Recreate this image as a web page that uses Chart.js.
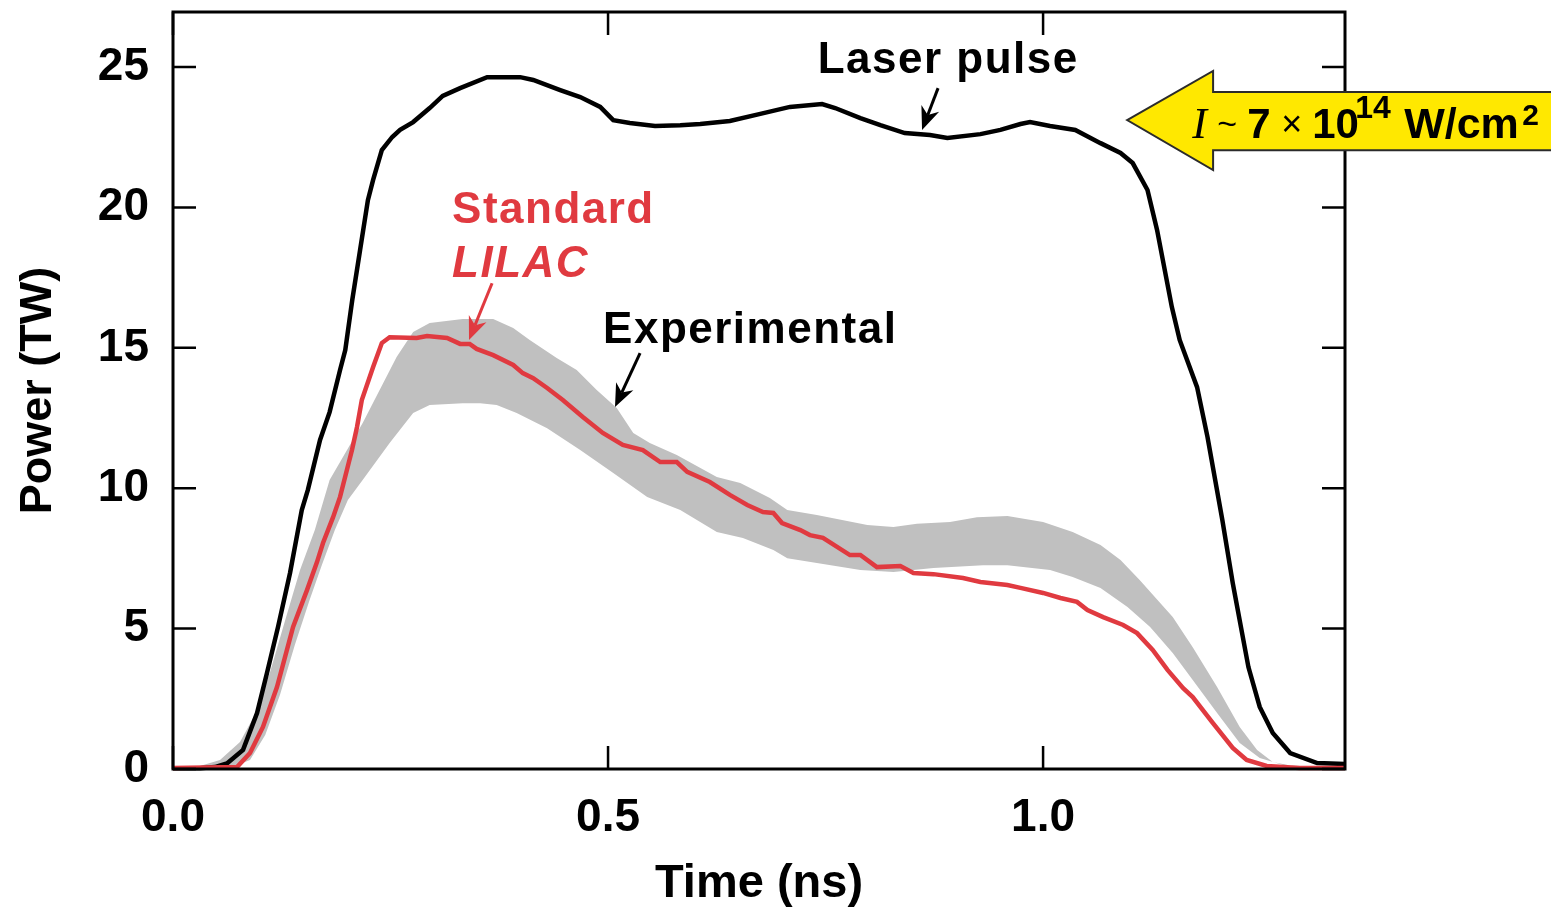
<!DOCTYPE html>
<html>
<head>
<meta charset="utf-8">
<script src="https://cdn.jsdelivr.net/npm/chart.js@4.4.1/dist/chart.umd.min.js"></script>
<style>
  html, body { margin: 0; padding: 0; background: #fff; }
  canvas { display: block; }
</style>
</head>
<body>
<canvas id="power-chart" width="1551" height="912"></canvas>
<script>
// tick labels
const timeTicks = [0, 0.5, 1.0];
const powerTicks = [0, 5, 10, 15, 20, 25];

// laser pulse (black)
const laserTime = [0, 0.031, 0.048, 0.062, 0.0805, 0.0966, 0.108, 0.1207, 0.1345, 0.148, 0.155, 0.169, 0.180, 0.192, 0.198, 0.206, 0.215, 0.224, 0.230, 0.240, 0.252, 0.261, 0.276, 0.295, 0.310, 0.330, 0.361, 0.399, 0.414, 0.445, 0.468, 0.491, 0.506, 0.525, 0.554, 0.583, 0.606, 0.640, 0.675, 0.709, 0.746, 0.761, 0.790, 0.813, 0.841, 0.870, 0.890, 0.928, 0.951, 0.974, 0.985, 1.008, 1.037, 1.066, 1.089, 1.103, 1.120, 1.131, 1.148, 1.157, 1.177, 1.189, 1.206, 1.218, 1.236, 1.249, 1.264, 1.284, 1.315, 1.347];
const laserPower = [0.03, 0.03, 0.07, 0.2, 0.68, 1.99, 3.42, 5.06, 6.98, 9.22, 9.94, 11.72, 12.71, 14.21, 14.92, 16.70, 18.48, 20.26, 20.98, 22.04, 22.51, 22.76, 23.04, 23.54, 23.97, 24.25, 24.64, 24.64, 24.54, 24.18, 23.93, 23.58, 23.11, 23.01, 22.90, 22.93, 22.97, 23.08, 23.33, 23.58, 23.68, 23.54, 23.18, 22.93, 22.65, 22.58, 22.47, 22.61, 22.76, 22.97, 23.04, 22.90, 22.76, 22.29, 21.94, 21.58, 20.62, 19.20, 16.45, 15.28, 13.60, 11.82, 8.87, 6.62, 3.63, 2.21, 1.28, 0.57, 0.21, 0.18];

// standard LILAC simulation (red)
const lilacTime = [0, 0.0736, 0.0885, 0.1034, 0.1195, 0.138, 0.154, 0.1655, 0.1724, 0.184, 0.192, 0.2057, 0.2115, 0.217, 0.230, 0.240, 0.249, 0.280, 0.292, 0.315, 0.330, 0.341, 0.349, 0.368, 0.391, 0.402, 0.414, 0.430, 0.448, 0.471, 0.494, 0.517, 0.540, 0.560, 0.579, 0.591, 0.617, 0.640, 0.660, 0.678, 0.690, 0.700, 0.721, 0.732, 0.747, 0.778, 0.790, 0.809, 0.836, 0.851, 0.874, 0.908, 0.928, 0.959, 0.974, 1.000, 1.020, 1.039, 1.051, 1.069, 1.092, 1.108, 1.126, 1.143, 1.161, 1.172, 1.195, 1.218, 1.234, 1.257, 1.295, 1.347];
const lilacPower = [0.04, 0.07, 0.57, 1.50, 2.92, 5.06, 6.37, 7.37, 8.05, 8.97, 9.69, 11.36, 12.18, 13.14, 14.32, 15.17, 15.38, 15.35, 15.42, 15.35, 15.14, 15.14, 14.96, 14.74, 14.39, 14.10, 13.92, 13.57, 13.14, 12.54, 11.97, 11.54, 11.36, 10.93, 10.93, 10.58, 10.22, 9.76, 9.40, 9.15, 9.12, 8.76, 8.51, 8.33, 8.23, 7.62, 7.62, 7.19, 7.23, 6.98, 6.94, 6.80, 6.66, 6.55, 6.45, 6.27, 6.09, 5.95, 5.66, 5.41, 5.13, 4.84, 4.24, 3.53, 2.88, 2.56, 1.64, 0.75, 0.32, 0.11, 0.04, 0.04];

// experimental band (grey): upper and lower edges
const bandUpperTime = [0, 0.031, 0.054, 0.077, 0.094, 0.1115, 0.129, 0.146, 0.163, 0.180, 0.218, 0.257, 0.276, 0.295, 0.333, 0.368, 0.391, 0.410, 0.441, 0.464, 0.487, 0.510, 0.529, 0.548, 0.579, 0.625, 0.652, 0.686, 0.706, 0.740, 0.798, 0.828, 0.855, 0.893, 0.924, 0.959, 1.000, 1.034, 1.066, 1.089, 1.111, 1.149, 1.172, 1.200, 1.226, 1.246, 1.264, 1.287, 1.333, 1.347];
const bandUpperPower = [0.07, 0.11, 0.32, 0.96, 1.92, 3.45, 5.31, 7.09, 8.51, 10.29, 12.32, 14.67, 15.56, 15.88, 16.03, 16.03, 15.71, 15.28, 14.64, 14.21, 13.50, 12.86, 11.97, 11.61, 11.18, 10.40, 10.19, 9.65, 9.22, 9.05, 8.69, 8.62, 8.73, 8.80, 8.97, 9.01, 8.80, 8.44, 7.98, 7.44, 6.73, 5.41, 4.34, 2.92, 1.50, 0.68, 0.25, 0.11, 0.07, 0.07];
const bandLowerTime = [0, 0.0655, 0.0885, 0.106, 0.123, 0.140, 0.157, 0.171, 0.186, 0.201, 0.218, 0.249, 0.276, 0.295, 0.333, 0.353, 0.372, 0.395, 0.430, 0.468, 0.506, 0.545, 0.583, 0.625, 0.655, 0.690, 0.706, 0.740, 0.790, 0.828, 0.874, 0.931, 0.959, 1.008, 1.034, 1.066, 1.097, 1.123, 1.149, 1.172, 1.200, 1.226, 1.249, 1.276, 1.315, 1.347];
const bandLowerPower = [0.04, 0.04, 0.32, 1.21, 2.64, 4.42, 6.02, 7.26, 8.51, 9.58, 10.29, 11.61, 12.68, 12.96, 13.03, 13.03, 12.96, 12.68, 12.14, 11.36, 10.54, 9.69, 9.22, 8.44, 8.23, 7.80, 7.51, 7.34, 7.09, 7.02, 7.16, 7.26, 7.26, 7.09, 6.84, 6.45, 5.77, 5.06, 4.13, 3.17, 1.99, 0.93, 0.39, 0.14, 0.07, 0.07];

const RED = '#e03a40';
const FONT = '"Liberation Sans", Arial, Helvetica, sans-serif';
const TICK = 23;

const toPoints = (ts, ps) => ts.map((t, i) => ({ x: t, y: ps[i] }));

// closed outline of the band: upper edge forward, lower edge back
const bandPoints = toPoints(bandUpperTime, bandUpperPower)
  .concat(toPoints(bandLowerTime, bandLowerPower).reverse());

function arrow(ctx, x1, y1, x2, y2, color) {
  const ang = Math.atan2(y2 - y1, x2 - x1);
  const len = 23, half = 9.5, back = 16;
  ctx.save();
  ctx.strokeStyle = color;
  ctx.fillStyle = color;
  ctx.lineWidth = 3;
  ctx.beginPath();
  ctx.moveTo(x1, y1);
  ctx.lineTo(x2 - Math.cos(ang) * back, y2 - Math.sin(ang) * back);
  ctx.stroke();
  ctx.translate(x2, y2);
  ctx.rotate(ang);
  ctx.beginPath();
  ctx.moveTo(0, 0);
  ctx.lineTo(-len, -half);
  ctx.lineTo(-back, 0);
  ctx.lineTo(-len, half);
  ctx.closePath();
  ctx.fill();
  ctx.restore();
}

const frameTicks = {
  id: 'frameTicks',
  afterDatasetsDraw(chart) {
    const { ctx, chartArea: a, scales: { x, y } } = chart;
    ctx.save();
    ctx.strokeStyle = '#000';
    ctx.lineWidth = 2.5;
    ctx.beginPath();
    timeTicks.forEach(v => {
      const px = x.getPixelForValue(v);
      ctx.moveTo(px, a.bottom); ctx.lineTo(px, a.bottom - TICK);
      ctx.moveTo(px, a.top); ctx.lineTo(px, a.top + TICK);
    });
    powerTicks.forEach(v => {
      const py = y.getPixelForValue(v);
      ctx.moveTo(a.left, py); ctx.lineTo(a.left + TICK, py);
      ctx.moveTo(a.right, py); ctx.lineTo(a.right - TICK, py);
    });
    ctx.stroke();
    ctx.lineWidth = 3;
    ctx.strokeRect(a.left, a.top, a.right - a.left, a.bottom - a.top);
    ctx.restore();
  }
};

const labels = {
  id: 'labels',
  afterDraw(chart) {
    const { ctx, scales: { x, y } } = chart;
    const X = v => x.getPixelForValue(v);
    const Y = v => y.getPixelForValue(v);
    ctx.save();
    ctx.textBaseline = 'alphabetic';
    ctx.textAlign = 'left';
    ctx.letterSpacing = '1.5px';

    ctx.fillStyle = '#000';
    ctx.font = 'bold 44px ' + FONT;
    ctx.fillText('Laser pulse', X(0.741), Y(24.79));
    arrow(ctx, X(0.8793), Y(24.25), X(0.8609), Y(22.76), '#000');

    ctx.fillText('Experimental', X(0.4943), Y(15.17));
    arrow(ctx, X(0.5368), Y(14.81), X(0.508), Y(12.89), '#000');

    ctx.fillStyle = RED;
    ctx.font = 'bold 44px ' + FONT;
    ctx.fillText('Standard', X(0.3207), Y(19.44));
    ctx.font = 'italic bold 44px ' + FONT;
    ctx.fillText('LILAC', X(0.3207), Y(17.52));
    arrow(ctx, X(0.3667), Y(17.30), X(0.3402), Y(15.28), RED);
    ctx.letterSpacing = '0px';

    // yellow intensity arrow
    const tipX = X(1.0966), tipY = Y(23.11);
    const headX = X(1.1954);
    const shaftTop = Y(24.11), shaftBot = Y(22.04);
    const headTop = Y(24.86), headBot = Y(21.33);
    const endX = chart.width + 5;
    ctx.beginPath();
    ctx.moveTo(tipX, tipY);
    ctx.lineTo(headX, headTop);
    ctx.lineTo(headX, shaftTop);
    ctx.lineTo(endX, shaftTop);
    ctx.lineTo(endX, shaftBot);
    ctx.lineTo(headX, shaftBot);
    ctx.lineTo(headX, headBot);
    ctx.closePath();
    ctx.fillStyle = '#ffe800';
    ctx.fill();
    ctx.strokeStyle = '#2b2b2b';
    ctx.lineWidth = 2;
    ctx.stroke();

    const x0 = X(1.1713), base = Y(22.47);
    ctx.fillStyle = '#000';
    ctx.font = 'italic 44px "Liberation Serif", "Times New Roman", serif';
    ctx.fillText('I', x0, base);
    ctx.font = '34px ' + FONT;
    ctx.fillText('~', x0 + 25, base - 3);
    ctx.font = 'bold 42px ' + FONT;
    ctx.fillText('7', x0 + 55, base);
    ctx.font = '36px ' + FONT;
    ctx.fillText('\u00d7', x0 + 89, base - 2);
    ctx.font = 'bold 42px ' + FONT;
    ctx.fillText('10', x0 + 120, base);
    ctx.font = 'bold 32px ' + FONT;
    ctx.fillText('14', x0 + 163, base - 20);
    ctx.font = 'bold 43px ' + FONT;
    ctx.fillText('W/cm', x0 + 212, base);
    ctx.font = 'bold 30px ' + FONT;
    ctx.fillText('2', x0 + 330, base - 13);
    ctx.restore();
  }
};

new Chart(document.getElementById('power-chart'), {
  type: 'line',
  data: {
    datasets: [
      {
        label: 'Standard LILAC',
        data: toPoints(lilacTime, lilacPower),
        borderColor: RED,
        borderWidth: 4.5,
        pointRadius: 0,
        fill: false,
        clip: false,
        order: 0
      },
      {
        label: 'Laser pulse',
        data: toPoints(laserTime, laserPower),
        borderColor: '#000',
        borderWidth: 4.5,
        pointRadius: 0,
        fill: false,
        clip: false,
        order: 1
      },
      {
        label: 'Experimental',
        data: bandPoints,
        borderColor: 'rgba(0,0,0,0)',
        borderWidth: 0,
        backgroundColor: '#c0c0c0',
        pointRadius: 0,
        fill: 'shape',
        order: 2
      }
    ]
  },
  options: {
    responsive: false,
    animation: false,
    devicePixelRatio: 1,
    layout: { padding: { left: 0, right: 206, top: 12, bottom: 0 } },
    plugins: {
      legend: { display: false },
      tooltip: { enabled: false }
    },
    scales: {
      x: {
        type: 'linear',
        min: 0,
        max: 1.347,
        grid: { display: false },
        border: { display: false },
        afterBuildTicks: s => { s.ticks = timeTicks.map(v => ({ value: v })); },
        afterFit: s => { s.height = 143; s.paddingLeft = 0; s.paddingRight = 0; },
        ticks: {
          padding: 14,
          color: '#000',
          font: { family: FONT, size: 46, weight: 'bold' },
          callback: v => v.toFixed(1)
        },
        title: {
          display: true,
          text: 'Time (ns)',
          color: '#000',
          padding: { top: 0, bottom: 0 },
          font: { family: FONT, size: 47, weight: 'bold' }
        }
      },
      y: {
        min: 0,
        max: 26.96,
        grid: { display: false },
        border: { display: false },
        afterBuildTicks: s => { s.ticks = powerTicks.map(v => ({ value: v })); },
        afterFit: s => { s.width = 173; s.paddingTop = 0; s.paddingBottom = 0; },
        ticks: {
          padding: 16,
          color: '#000',
          font: { family: FONT, size: 46, weight: 'bold' }
        },
        title: {
          display: true,
          text: 'Power (TW)',
          color: '#000',
          padding: { top: 12, bottom: 0 },
          font: { family: FONT, size: 45, weight: 'bold' }
        }
      }
    }
  },
  plugins: [frameTicks, labels]
});
</script>
</body>
</html>
